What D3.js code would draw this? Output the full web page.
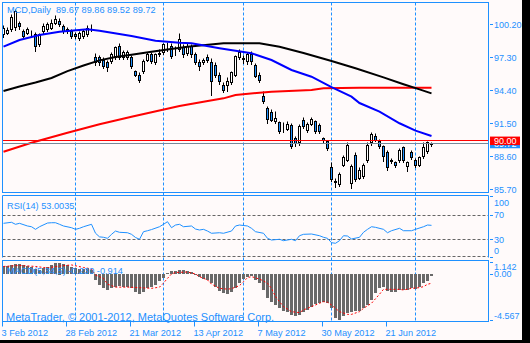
<!DOCTYPE html>
<html><head><meta charset="utf-8">
<script src="https://cdnjs.cloudflare.com/ajax/libs/d3/7.8.5/d3.min.js"></script>
<style>
html,body{margin:0;padding:0;background:#000;}
svg{display:block;}
text{font-family:"Liberation Sans",Arial,sans-serif;}
</style></head><body>
<svg id="chart" width="530" height="343"></svg>
<script>
// MCD daily candles, bar 0 = 3 Feb 2012
const candleOpen = [99.28,99.45,99.72,99.90,100.30,99.60,99.43,99.45,99.30,98.46,
 99.57,99.72,99.87,100.30,100.45,100.00,99.57,99.57,99.34,98.99,
 99.13,99.28,99.80,97.34,97.26,97.08,96.90,96.93,97.26,98.25,
 97.26,97.30,97.26,96.05,95.76,96.05,97.08,97.52,96.82,97.60,
 97.70,98.30,98.25,97.90,97.96,98.14,97.67,98.25,97.52,96.90,
 96.90,97.34,96.90,96.64,95.76,94.88,94.88,95.06,95.76,97.34,
 97.20,96.93,97.52,96.64,95.76,93.86,92.86,92.50,91.65,91.55,
 90.92,91.00,91.30,90.14,89.80,91.75,90.90,91.45,91.70,91.30,
 90.20,89.95,87.60,86.30,86.15,87.85,88.29,86.25,88.73,86.71,
 86.83,88.29,89.79,90.34,89.90,89.44,88.91,88.29,88.06,88.29,
 89.35,87.70,88.91,88.23,87.85,88.58,89.02,89.67];
const candleHigh = [100.10,99.90,101.10,101.50,100.50,99.80,99.90,99.65,99.50,99.40,
 100.30,100.40,100.60,101.00,100.75,100.20,99.95,99.75,99.50,99.60,
 99.80,100.10,100.20,97.61,97.50,97.30,97.00,97.70,98.30,98.49,
 97.90,97.95,97.50,96.20,95.95,97.10,97.70,97.70,97.65,98.00,
 98.55,98.60,98.50,98.30,99.45,98.40,98.50,98.40,97.70,97.10,
 97.20,97.60,97.20,96.90,96.00,95.10,95.50,96.10,97.50,98.00,
 97.50,97.70,97.80,96.80,96.00,94.30,93.00,92.70,92.55,91.70,
 91.60,91.70,91.50,90.40,91.40,92.00,91.60,92.00,91.80,91.50,
 90.30,90.05,88.10,86.70,87.20,88.70,89.87,87.94,88.91,87.59,
 88.00,89.80,90.69,90.60,90.10,89.60,89.10,88.40,88.20,89.30,
 89.50,88.20,89.10,88.40,88.60,89.79,89.95,89.86];
const candleLow = [99.10,99.30,99.60,99.70,99.80,99.00,99.30,99.15,97.80,98.30,
 99.45,99.60,99.75,100.20,100.00,99.40,99.45,98.95,98.95,98.80,
 99.00,99.15,99.60,96.64,96.60,96.30,96.10,96.80,97.10,97.10,
 97.10,97.15,96.30,95.60,95.06,95.90,96.95,96.80,96.70,97.40,
 97.60,97.80,97.20,97.50,97.80,97.30,97.50,97.30,96.70,96.20,
 96.70,96.90,94.00,95.50,94.90,94.20,94.30,94.90,95.60,97.10,
 96.80,96.70,96.70,95.50,95.10,93.30,91.50,91.70,91.50,90.60,
 90.75,90.90,89.30,89.50,89.60,91.10,90.70,91.30,90.60,90.60,
 89.70,89.10,86.40,85.90,85.95,87.70,88.12,85.83,86.36,86.54,
 86.70,88.10,89.60,89.90,89.30,88.14,87.40,88.00,87.60,88.10,
 88.10,87.26,88.30,87.60,87.70,88.40,88.90,89.52];
const candleClose = [99.87,99.70,100.85,101.30,100.00,99.15,99.72,99.40,98.30,99.28,
 100.00,100.16,100.30,100.60,100.16,99.57,99.80,99.13,99.13,99.43,
 99.57,99.87,99.75,96.90,96.82,96.55,96.38,97.52,98.14,97.26,
 97.70,97.75,96.47,95.76,95.32,96.93,97.52,96.93,97.52,97.65,
 98.40,98.28,97.37,97.95,98.84,97.52,98.25,97.52,96.90,96.47,
 97.00,97.08,95.15,95.76,95.15,94.44,95.15,95.94,97.37,97.78,
 97.10,97.52,96.93,95.67,95.32,93.42,91.81,91.80,91.90,90.76,
 90.88,91.37,89.50,89.70,91.20,91.22,91.37,91.87,90.80,90.80,
 90.00,89.30,86.55,86.40,87.05,88.55,89.61,87.70,86.54,87.41,
 87.85,89.61,90.49,90.05,89.46,88.58,87.59,88.14,87.77,89.17,
 88.29,88.06,88.47,87.85,88.47,89.35,89.79,89.72];

// Moving averages (bar index, value)
const maBlueIdx = [0,4,9,14,21,24,32,38,44,47,54,62,67,72,77,82,87,89,94,99,103,107];
const maBlue    = [98.25,98.84,99.28,99.57,99.78,99.66,99.19,98.78,98.60,98.55,98.11,97.67,97.08,96.20,95.61,94.70,93.86,93.30,92.54,91.52,90.87,90.40];
const maBlackIdx = [0,4,8,12,16,20,24,28,32,37,41,46,55,64,69,75,82,88,95,100,104,107];
const maBlack    = [94.35,94.75,95.10,95.50,96.10,96.60,97.05,97.35,97.55,97.80,98.00,98.25,98.55,98.55,98.25,97.70,97.00,96.35,95.55,94.95,94.50,94.15];
const maRedIdx = [0,7,16,24,32,44,50,55,58,64,67,77,80,89,107];
const maRed    = [89.02,89.81,90.69,91.43,92.10,93.04,93.42,93.71,94.00,94.21,94.30,94.44,94.59,94.65,94.65];

// RSI(14)
const rsiIdx = [0,2,3,4,6,7,8,9,11,12,13,14,15,17,18,19,20,22,23,24,25,26,27,28,29,31,32,33,34,35,36,37,39,40,41,42,43,44,45,47,48,49,50,51,52,54,55,57,58,59,61,62,63,65,66,67,69,70,72,73,74,75,77,79,80,81,82,83,84,85,86,87,89,90,91,92,93,95,96,97,99,100,102,103,105,106,107];
const rsiVal = [56.3,58.0,54.7,56.3,51.9,50.7,46.4,50.7,56.8,57.3,57.3,54.7,51.9,49.1,46.4,48.1,50.7,54.7,40.0,34.0,33.3,31.6,38.2,43.6,41.5,40.8,38.2,33.0,30.0,42.5,44.1,46.0,50.7,54.7,59.0,49.1,53.5,54.7,50.7,51.9,46.9,45.3,46.4,43.6,39.9,40.8,39.9,43.6,51.9,53.5,51.9,48.1,42.5,39.9,31.6,28.8,30.0,27.7,30.0,27.7,35.9,38.2,38.7,35.9,33.3,31.6,24.4,23.4,27.7,35.9,35.4,30.5,33.3,41.5,46.4,50.7,49.7,46.4,40.8,44.1,48.1,44.1,44.1,46.4,50.7,53.5,53.0];

// MACD(5,34,5) main histogram, one value per bar
const macdMain = [0.80,0.75,0.90,1.00,1.00,0.85,0.80,0.70,0.45,0.40,
 0.55,0.70,0.85,1.05,1.142,0.95,0.85,0.70,0.55,0.45,
 0.45,0.50,0.40,-0.59,-1.09,-1.42,-1.58,-1.42,-1.25,-1.16,
 -1.25,-1.25,-1.42,-1.75,-2.01,-1.75,-1.42,-1.32,-1.09,-0.69,
 -0.36,0.10,0.25,0.25,0.35,0.35,0.30,0.20,-0.05,-0.26,
 -0.50,-0.59,-0.92,-1.25,-1.68,-1.91,-2.01,-1.82,-1.42,-0.92,
 -0.50,-0.26,-0.16,-0.59,-0.92,-1.58,-2.41,-2.74,-3.07,-3.40,
 -3.66,-3.80,-4.06,-4.16,-4.06,-3.80,-3.56,-3.23,-3.00,-2.84,
 -2.74,-2.84,-3.40,-4.39,-4.567,-4.16,-3.89,-3.73,-3.66,-3.66,
 -3.40,-3.07,-2.57,-1.91,-1.42,-1.25,-1.68,-1.75,-1.82,-1.58,
 -1.58,-1.58,-1.42,-1.49,-1.25,-0.92,-0.69,-0.23];
const signalIdx = [0,4,8,11,14,17,20,22,23,25,26,28,31,34,37,39,40,41,42,43,46,48,49,51,52,54,56,57,59,60,61,62,64,65,66,67,68,70,72,74,75,77,79,80,81,82,83,84,86,87,89,90,92,94,95,97,99,100,102,104,105,106,107];
const signalVal = [0.75,0.85,0.75,0.60,0.80,0.90,0.65,0.50,-0.10,-0.43,-1.00,-1.30,-1.30,-1.35,-1.42,-1.30,-0.90,-0.43,0.00,0.15,0.20,0.00,-0.26,-0.59,-1.00,-1.42,-1.50,-1.45,-1.15,-0.76,-0.36,-0.26,-0.50,-0.69,-0.92,-1.42,-2.24,-3.23,-3.73,-3.83,-3.56,-3.23,-2.90,-2.74,-2.80,-3.07,-3.40,-3.73,-4.00,-4.00,-3.73,-3.40,-2.90,-2.00,-1.52,-1.52,-1.52,-1.58,-1.42,-1.35,-1.25,-1.02,-0.914];

// Axis labels
const priceTicks = [100.20, 97.30, 94.40, 91.50, 88.60, 85.70];
const rsiTicks = [100, 70, 30, 0];
const rsiLevels = [70, 30, 0];
const macdTicks = [1.142, 0.00, -4.567];
const macdTickLabels = ["1.142", "0.00", "-4.567"];
const dateTickIdx = [0, 16, 32, 48, 64, 80, 96];
const dateTickLabels = ["3 Feb 2012", "28 Feb 2012", "21 Mar 2012", "13 Apr 2012", "7 May 2012", "30 May 2012", "21 Jun 2012"];
const gridIdx = [18, 40, 60, 82, 103];
const lineLevel = 90.00;
const bidPrice = 89.72;
const titleText = "MCD,Daily  89.67 89.86 89.52 89.72";
const rsiTitle = "RSI(14) 53.0035";
const macdTitle = "MACD(5,34,5) -0.230 -0.914";
const copyright = "MetaTrader, \u00a9 2001-2012, MetaQuotes Software Corp.";

const BLUE = "#1e90ff", BG = "#fffafa";
const L = 2.5, R = 488.5;
const mainP = {top: 2.5, bottom: 192.5};
const rsiP = {top: 195.5, bottom: 257.5};
const macdP = {top: 260.5, bottom: 321.5};

const svg = d3.select("#chart");
svg.append("rect").attr("x", 0).attr("y", 0).attr("width", 522).attr("height", 340).attr("fill", BG);

const x = d3.scaleLinear().domain([0, 107]).range([3.5, 431.5]);
const y = d3.scaleLinear().domain([85.70, 100.20]).range([189.5, 24.5]);
const yr = d3.scaleLinear().domain([0, 100]).range([257.5, 196.8]);
const ym = d3.scaleLinear().domain([-4.567, 1.142]).range([320.1, 262.5]);
const cr = v => Math.round(v - 0.5) + 0.5;

const defs = svg.append("defs");
function clip(id, p) {
  defs.append("clipPath").attr("id", id).append("rect")
    .attr("x", L).attr("y", p.top).attr("width", R - L).attr("height", p.bottom - p.top);
}
clip("cMain", mainP); clip("cRsi", rsiP); clip("cMacd", macdP);

// vertical dashed grid through all panes
svg.append("g").selectAll("line").data(gridIdx).join("line")
  .attr("x1", d => x(d)).attr("x2", d => x(d))
  .attr("y1", mainP.top).attr("y2", macdP.bottom)
  .attr("stroke", BLUE).attr("stroke-dasharray", "3,2").attr("stroke-width", 1);

// ---------- main pane ----------
const gMain = svg.append("g").attr("clip-path", "url(#cMain)");
svg.append("text").attr("x", 7).attr("y", 13.3).attr("fill", BLUE).attr("font-size", 9.2)
  .style("white-space", "pre").text(titleText);

const bars = d3.range(candleOpen.length);
const gC = gMain.append("g");
gC.selectAll("line").data(bars).join("line")
  .attr("x1", i => x(i)).attr("x2", i => x(i))
  .attr("y1", i => cr(y(candleHigh[i]))).attr("y2", i => cr(y(candleLow[i])) + 0.5)
  .attr("stroke", "#000").attr("stroke-width", 1);
gC.selectAll("rect").data(bars).join("rect")
  .attr("x", i => x(i) - 1).attr("width", 2)
  .attr("y", i => cr(y(Math.max(candleOpen[i], candleClose[i]))))
  .attr("height", i => Math.max(0, cr(y(Math.min(candleOpen[i], candleClose[i]))) - cr(y(Math.max(candleOpen[i], candleClose[i])))))
  .attr("fill", i => candleClose[i] >= candleOpen[i] ? "#ffffff" : BLUE)
  .attr("stroke", "#000").attr("stroke-width", 1);

function maLine(idx, vals, color) {
  gMain.append("path").datum(idx.map((d, k) => [d, vals[k]]))
    .attr("d", d3.line().x(d => x(d[0])).y(d => y(d[1])))
    .attr("fill", "none").attr("stroke", color).attr("stroke-width", 2);
}
maLine(maRedIdx, maRed, "#ff0000");
maLine(maBlackIdx, maBlack, "#000000");
maLine(maBlueIdx, maBlue, "#0000ff");

// horizontal price lines
gMain.append("line").attr("x1", L).attr("x2", R).attr("y1", cr(y(lineLevel))).attr("y2", cr(y(lineLevel)))
  .attr("stroke", "#ff0000").attr("stroke-width", 1);
gMain.append("line").attr("x1", L).attr("x2", R).attr("y1", cr(y(bidPrice))).attr("y2", cr(y(bidPrice)))
  .attr("stroke", "#778899").attr("stroke-width", 1);

// main pane frame and price scale
svg.append("rect").attr("x", L).attr("y", mainP.top).attr("width", R - L).attr("height", mainP.bottom - mainP.top)
  .attr("fill", "none").attr("stroke", BLUE);
const gAx = svg.append("g").attr("font-size", 9).attr("fill", BLUE);
priceTicks.forEach(v => {
  gAx.append("line").attr("x1", R + 1.5).attr("x2", R + 4.5).attr("y1", cr(y(v))).attr("y2", cr(y(v))).attr("stroke", BLUE);
  gAx.append("text").attr("x", 494).attr("y", y(v) + 3.3).text(v.toFixed(2));
});
// current price tags
const bidY = y(bidPrice), lvlY = y(lineLevel);
svg.append("rect").attr("x", 490).attr("y", bidY - 4).attr("width", 30).attr("height", 8.5).attr("fill", BLUE);
svg.append("text").attr("x", 494).attr("y", bidY + 3.3).attr("font-size", 9).attr("fill", "#fff").text(bidPrice.toFixed(2));
svg.append("rect").attr("x", 490).attr("y", lvlY - 4).attr("width", 30).attr("height", 8.5).attr("fill", "#ff0000");
svg.append("text").attr("x", 494).attr("y", lvlY + 3.3).attr("font-size", 9).attr("fill", "#fff").text(lineLevel.toFixed(2));

// ---------- RSI pane ----------
const gR = svg.append("g").attr("clip-path", "url(#cRsi)");
gR.selectAll("line").data(rsiLevels).join("line")
  .attr("x1", L).attr("x2", R).attr("y1", d => cr(yr(d)) - (d === 0 ? 1 : 0)).attr("y2", d => cr(yr(d)) - (d === 0 ? 1 : 0))
  .attr("stroke", "#666").attr("stroke-dasharray", "3,2");
gR.append("path").datum(rsiIdx.map((d, k) => [d, rsiVal[k]]))
  .attr("d", d3.line().x(d => x(d[0])).y(d => yr(d[1])))
  .attr("fill", "none").attr("stroke", BLUE).attr("stroke-width", 1);
svg.append("text").attr("x", 7).attr("y", 209).attr("font-size", 9.2).attr("fill", BLUE).text(rsiTitle);
svg.append("path").attr("d", `M${L},${rsiP.bottom}V${rsiP.top}H${R}V${rsiP.bottom}`)
  .attr("fill", "none").attr("stroke", BLUE);
rsiTicks.forEach(v => {
  const cy = Math.max(rsiP.top + 7, Math.min(rsiP.bottom - 6.5, yr(v)));
  gAx.append("line").attr("x1", R + 1.5).attr("x2", R + 4.5).attr("y1", cr(yr(v))).attr("y2", cr(yr(v))).attr("stroke", BLUE);
  gAx.append("text").attr("x", 494).attr("y", cy + 3.3).text(v);
});

// ---------- MACD pane ----------
const gM = svg.append("g").attr("clip-path", "url(#cMacd)");
svg.append("text").attr("x", 7).attr("y", 274).attr("font-size", 9.2).attr("fill", BLUE).text(macdTitle);
gM.selectAll("rect").data(bars).join("rect")
  .attr("x", i => x(i) - 1.5).attr("width", 3)
  .attr("y", i => Math.round(Math.min(ym(0), ym(macdMain[i]))))
  .attr("height", i => Math.max(1, Math.round(Math.abs(ym(macdMain[i]) - ym(0)))))
  .attr("fill", "#696969");
gM.append("path").datum(signalIdx.map((d, k) => [d, signalVal[k]]))
  .attr("d", d3.line().x(d => x(d[0])).y(d => ym(d[1])))
  .attr("fill", "none").attr("stroke", "#ff0000").attr("stroke-width", 1).attr("stroke-dasharray", "2,2");
svg.append("text").attr("x", 6).attr("y", 320.5).attr("font-size", 11).attr("fill", BLUE).text(copyright);
svg.append("rect").attr("x", L).attr("y", macdP.top).attr("width", R - L).attr("height", macdP.bottom - macdP.top)
  .attr("fill", "none").attr("stroke", BLUE);
macdTicks.forEach((v, k) => {
  const cy = Math.max(macdP.top + 6.5, Math.min(macdP.bottom - 6, ym(v)));
  gAx.append("line").attr("x1", R + 1.5).attr("x2", R + 4.5).attr("y1", cr(ym(v))).attr("y2", cr(ym(v))).attr("stroke", BLUE);
  gAx.append("text").attr("x", 494).attr("y", cy + 3.3).text(macdTickLabels[k]);
});

// ---------- time scale ----------
const gT = svg.append("g").attr("font-size", 9.2).attr("fill", BLUE);
dateTickIdx.forEach((d, k) => {
  const tx = x(d) - 1;
  gT.append("line").attr("x1", tx).attr("x2", tx).attr("y1", macdP.bottom).attr("y2", 326.5).attr("stroke", BLUE);
  gT.append("text").attr("x", Math.max(1.5, tx - 1)).attr("y", 335.5).text(dateTickLabels[k]);
});
</script>
</body></html>
